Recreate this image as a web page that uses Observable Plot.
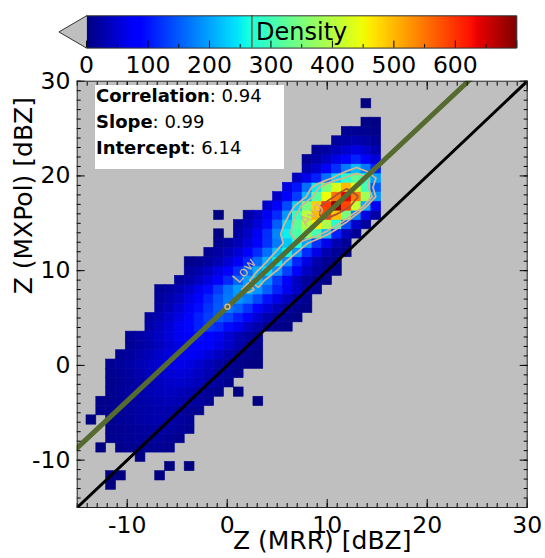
<!DOCTYPE html>
<html><head><meta charset="utf-8">
<script src="https://cdn.jsdelivr.net/npm/d3@7"></script>
<script src="https://cdn.jsdelivr.net/npm/@observablehq/plot@0.6"></script>
<style>
body{margin:0;background:#fff;}
#wrap{position:relative;width:545px;height:558px;overflow:hidden;font-family:"DejaVu Sans",sans-serif;}
#main,#cbar{position:absolute;left:0;top:0;}
#statsbox{position:absolute;left:95px;top:85px;width:189px;height:84px;background:#fff;}
#stats{position:absolute;left:96px;top:82.8px;font-size:18px;line-height:26px;color:#000;white-space:nowrap;}
</style></head><body>
<div id="wrap"><div id="main"></div><div id="cbar"></div><div id="statsbox"></div><div id="stats"></div></div>
<script>
// ---- data ----
const xLabel = "Z (MRR) [dBZ]";
const yLabel = "Z (MXPol) [dBZ]";
const cbarLabel = "Density";
const statNames = ["Correlation", "Slope", "Intercept"];
const statValues = [0.94, 0.99, 6.14];
const slope = 0.99, intercept = 6.14;
const axisMajor = [-10, 0, 10, 20, 30];
const axisMinor = d3.range(-15, 31);
const cbarMajor = [0, 100, 200, 300, 400, 500, 600, 700];
const cbarLabels = [0, 100, 200, 300, 400, 500, 600];
const cbarMinor = [50, 150, 250, 350, 450, 550, 650];
const colorMax = 700;
const cbarContour = [269];
const contourLevels = [200, 270, 520];
const contourNames = ["Low", "Avg"];
const contourLabelX = [1.7, 8.4];
const contourLabelY = [10.0, 16.0];
const lowMarker = [{x: 0.03, y: 6.2}];
// histogram bins (1 bin ~0.98 dBZ)
const xBinStart = -14.07, yBinStart = -13.13, binWidth = 0.982, nCols = 30, nRows = 42;
// counts per row (bottom row first): [first column, values...]
const rows = [
  [2, [1]],
  [2, [2,1,0,0,0,1]],
  [8, [1,0,1]],
  [5, [2]],
  [1, [2,0,8,10,11,12,11,9]],
  [2, [9,12,14,17,18,16,13,9]],
  [2, [8,11,14,18,20,22,20,16,11]],
  [0, [2,0,10,14,18,22,26,28,25,20,15]],
  [1, [7,10,14,18,22,26,28,26,20,14,10]],
  [1, [6,9,13,17,22,27,31,34,30,24,18,11,0,0,0,0,2]],
  [2, [10,15,20,26,32,37,40,36,29,21,14,8,0,2]],
  [2, [9,13,18,24,31,38,44,48,43,34,25,16,10]],
  [2, [10,14,21,28,37,45,51,56,50,40,29,18,11,6]],
  [2, [11,17,24,32,42,51,59,66,60,48,35,22,13,7,3,2]],
  [3, [13,18,26,35,46,56,66,74,68,54,39,25,15,8,4]],
  [4, [14,20,28,38,50,62,72,82,76,60,43,27,16,8]],
  [4, [15,22,31,42,55,70,84,95,88,70,50,32,19,10]],
  [6, [26,37,52,70,90,110,125,115,93,68,43,26,13,7,4]],
  [6, [21,31,45,62,84,108,130,148,135,108,78,50,30,15,8,4]],
  [7, [24,35,50,70,95,122,148,170,153,122,88,56,34,17,9,5]],
  [7, [18,27,40,58,82,112,145,172,190,171,137,99,63,38,19,10]],
  [7, [13,20,30,45,66,94,128,165,195,212,191,153,110,70,42,21,11]],
  [9, [16,25,39,57,82,114,155,196,228,182,125,75,39,18,9,5]],
  [10, [17,26,40,60,86,119,162,205,238,190,131,79,40,19,10,5]],
  [10, [7,12,20,32,50,74,112,159,208,248,186,112,60,27,12,5]],
  [12, [13,21,34,52,77,116,165,217,258,194,116,62,28,13,5]],
  [13, [13,21,35,54,80,121,172,225,268,201,121,64,29,13]],
  [13, [3,0,25,43,72,119,180,252,310,360,306,216,108,36,14]],
  [15, [18,32,55,92,152,230,322,396,460,391,276,138,46,18]],
  [13, [2,0,0,23,41,70,116,191,290,406,499,580,493,348,174,58,23]],
  [18, [48,83,138,228,345,483,593,690,587,414,207,69]],
  [19, [45,77,128,211,320,448,550,640,544,384,192]],
  [20, [60,100,165,250,350,430,500,425,300,150]],
  [21, [40,66,109,165,231,284,330,280,198]],
  [22, [28,47,77,120,172,215,172,108]],
  [22, [14,24,40,62,88,110,88,55]],
  [23, [13,22,34,48,60,48,30]],
  [25, [17,24,30,24,15]],
  [26, [11,14,11,7]],
  [28, [5,3]],
  [0, []],
  [28, [1]]
];

// ---- jet colormap ----
const JR = [[0,0],[0.35,0],[0.66,1],[0.89,1],[1,0.5]];
const JG = [[0,0],[0.125,0],[0.375,1],[0.64,1],[0.91,0],[1,0]];
const JB = [[0,0.5],[0.11,1],[0.34,1],[0.65,0],[1,0]];
function seg(t, pts) {
  for (let i = 1; i < pts.length; i++) {
    if (t <= pts[i][0]) {
      const [a0, b0] = pts[i-1], [a1, b1] = pts[i];
      return b0 + (b1 - b0) * (t - a0) / (a1 - a0);
    }
  }
  return pts[pts.length-1][1];
}
function jet(t) {
  t = Math.max(0, Math.min(1, t));
  return `rgb(${Math.round(seg(t,JR)*255)},${Math.round(seg(t,JG)*255)},${Math.round(seg(t,JB)*255)})`;
}
const colorScale = {type: "linear", domain: [0, colorMax], interpolate: jet, clamp: true};

// ---- build cells ----
const cells = [];
const grid = new Array(nCols * nRows).fill(0);
rows.forEach(([start, vals], j) => {
  vals.forEach((v, i) => {
    if (v > 0) {
      const k = start + i;
      cells.push({x1: xBinStart + k*binWidth, x2: xBinStart + (k+1)*binWidth,
                  y1: yBinStart + j*binWidth, y2: yBinStart + (j+1)*binWidth, v});
      grid[j*nCols + k] = v;
    }
  });
});
const gx1 = xBinStart, gx2 = xBinStart + nCols*binWidth, gy1 = yBinStart, gy2 = yBinStart + nRows*binWidth;
const dom = [-15, 30];
const oneToOne = dom.map(d => ({x: d, y: d}));
const fitLine = dom.map(d => ({x: d, y: slope*d + intercept}));

const font = "DejaVu Sans";
const tickFmt = d => String(d);
const contourOpts = {width: nCols, height: nRows, x1: gx1, x2: gx2, y1: gy1, y2: gy2, value: Plot.identity, fill: "none", strokeWidth: 1.8};

const main = Plot.plot({
  width: 545, height: 558,
  marginLeft: 76.7, marginRight: 18.3, marginTop: 80.7, marginBottom: 51,
  x: {domain: dom},
  y: {domain: dom},
  color: colorScale,
  style: {fontFamily: font, background: "transparent", color: "black", overflow: "visible"},
  marks: [
    Plot.frame({fill: "#bfbfbf"}),
    Plot.rect(cells, {x1: "x1", x2: "x2", y1: "y1", y2: "y2", fill: "v", stroke: "v", strokeWidth: 0.6}),
    Plot.contour(grid, {...contourOpts, thresholds: [contourLevels[0]], stroke: "#d6b48e"}),
    Plot.contour(grid, {...contourOpts, thresholds: [contourLevels[1]], stroke: "#d6b48e"}),
    Plot.contour(grid, {...contourOpts, thresholds: [contourLevels[2]], stroke: "#a85038"}),
    Plot.line(oneToOne, {x: "x", y: "y", stroke: "black", strokeWidth: 3, clip: true}),
    Plot.line(fitLine, {x: "x", y: "y", stroke: "#556b2f", strokeWidth: 5, clip: true}),
    Plot.dot(lowMarker, {x: "x", y: "y", r: 2.5, stroke: "#d6b48e", strokeWidth: 1.5, fill: "none"}),
    Plot.text(contourNames, {x: (d, i) => contourLabelX[i], y: (d, i) => contourLabelY[i], text: d => d,
      rotate: -50, fontSize: 14, fill: "#d6b48e"}),
    Plot.axisX({anchor: "bottom", ticks: axisMinor, tickSize: -4, tickFormat: () => "", label: null}),
    Plot.axisX({anchor: "bottom", ticks: axisMajor, tickSize: -8, tickPadding: 17, tickFormat: tickFmt, fontSize: 23.5, label: null}),
    Plot.axisX({anchor: "top", ticks: axisMinor, tickSize: -4, tickFormat: () => "", label: null}),
    Plot.axisX({anchor: "top", ticks: axisMajor, tickSize: -8, tickFormat: () => "", label: null}),
    Plot.axisY({anchor: "left", ticks: axisMinor, tickSize: -4, tickFormat: () => "", label: null}),
    Plot.axisY({anchor: "left", ticks: axisMajor, tickSize: -8, tickPadding: 14.7, tickFormat: tickFmt, fontSize: 23.5, label: null}),
    Plot.axisY({anchor: "right", ticks: axisMinor, tickSize: -4, tickFormat: () => "", label: null}),
    Plot.axisY({anchor: "right", ticks: axisMajor, tickSize: -8, tickFormat: () => "", label: null}),
    Plot.text([xLabel], {frameAnchor: "bottom", dx: 20, dy: 41.3, lineAnchor: "bottom", text: d => d, fontSize: 25, fill: "black"}),
    Plot.text([yLabel], {frameAnchor: "left", dx: -45, rotate: -90, lineAnchor: "bottom", text: d => d, fontSize: 25, fill: "black"}),
    Plot.frame({stroke: "#222", strokeWidth: 1})
  ]
});
document.getElementById("main").append(main);

// ---- colorbar ----
const tipX = -45;
const outline = [{x: 0, y: 1}, {x: colorMax, y: 1}, {x: colorMax, y: 0}, {x: 0, y: 0}, {x: tipX, y: 0.5}, {x: 0, y: 1}];
const tri = [{x: 0, y: 0}, {x: tipX, y: 0.5}, {x: 0, y: 1}];
const cbar = Plot.plot({
  width: 545, height: 80,
  marginLeft: 58.4, marginRight: 28.7, marginTop: 15.3, marginBottom: 32.4,
  x: {domain: [tipX, colorMax]},
  y: {domain: [0, 1], axis: null},
  color: colorScale,
  style: {fontFamily: font, background: "transparent", color: "black", overflow: "visible"},
  marks: [
    Plot.raster({x1: 0, x2: colorMax, y1: 0, y2: 1, width: 700, height: 1, fill: (x, y) => x}),
    Plot.line(tri, {x: "x", y: "y", fill: "#bfbfbf", stroke: "none"}),
    Plot.ruleX(cbarContour, {y1: 0, y2: 1, stroke: "#6a5f3c", strokeWidth: 1.5}),
    Plot.axisX({anchor: "bottom", ticks: cbarMinor, tickSize: -3.5, tickFormat: () => "", label: null}),
    Plot.axisX({anchor: "bottom", ticks: cbarMajor, tickSize: -7, tickPadding: 14.8,
      tickFormat: d => cbarLabels.includes(d) ? String(d) : "", fontSize: 23.5, label: null}),
    Plot.text([cbarLabel], {x: colorMax / 2, y: 0.5, text: d => d, fontSize: 24, fill: "black"}),
    Plot.line(outline, {x: "x", y: "y", stroke: "#333", strokeWidth: 1})
  ]
});
document.getElementById("cbar").append(cbar);

// ---- stats box ----
document.getElementById("stats").innerHTML = statNames.map((n, i) =>
  `<div><b>${n}</b>: ${statValues[i].toFixed(2)}</div>`).join("");
</script>
</body></html>
